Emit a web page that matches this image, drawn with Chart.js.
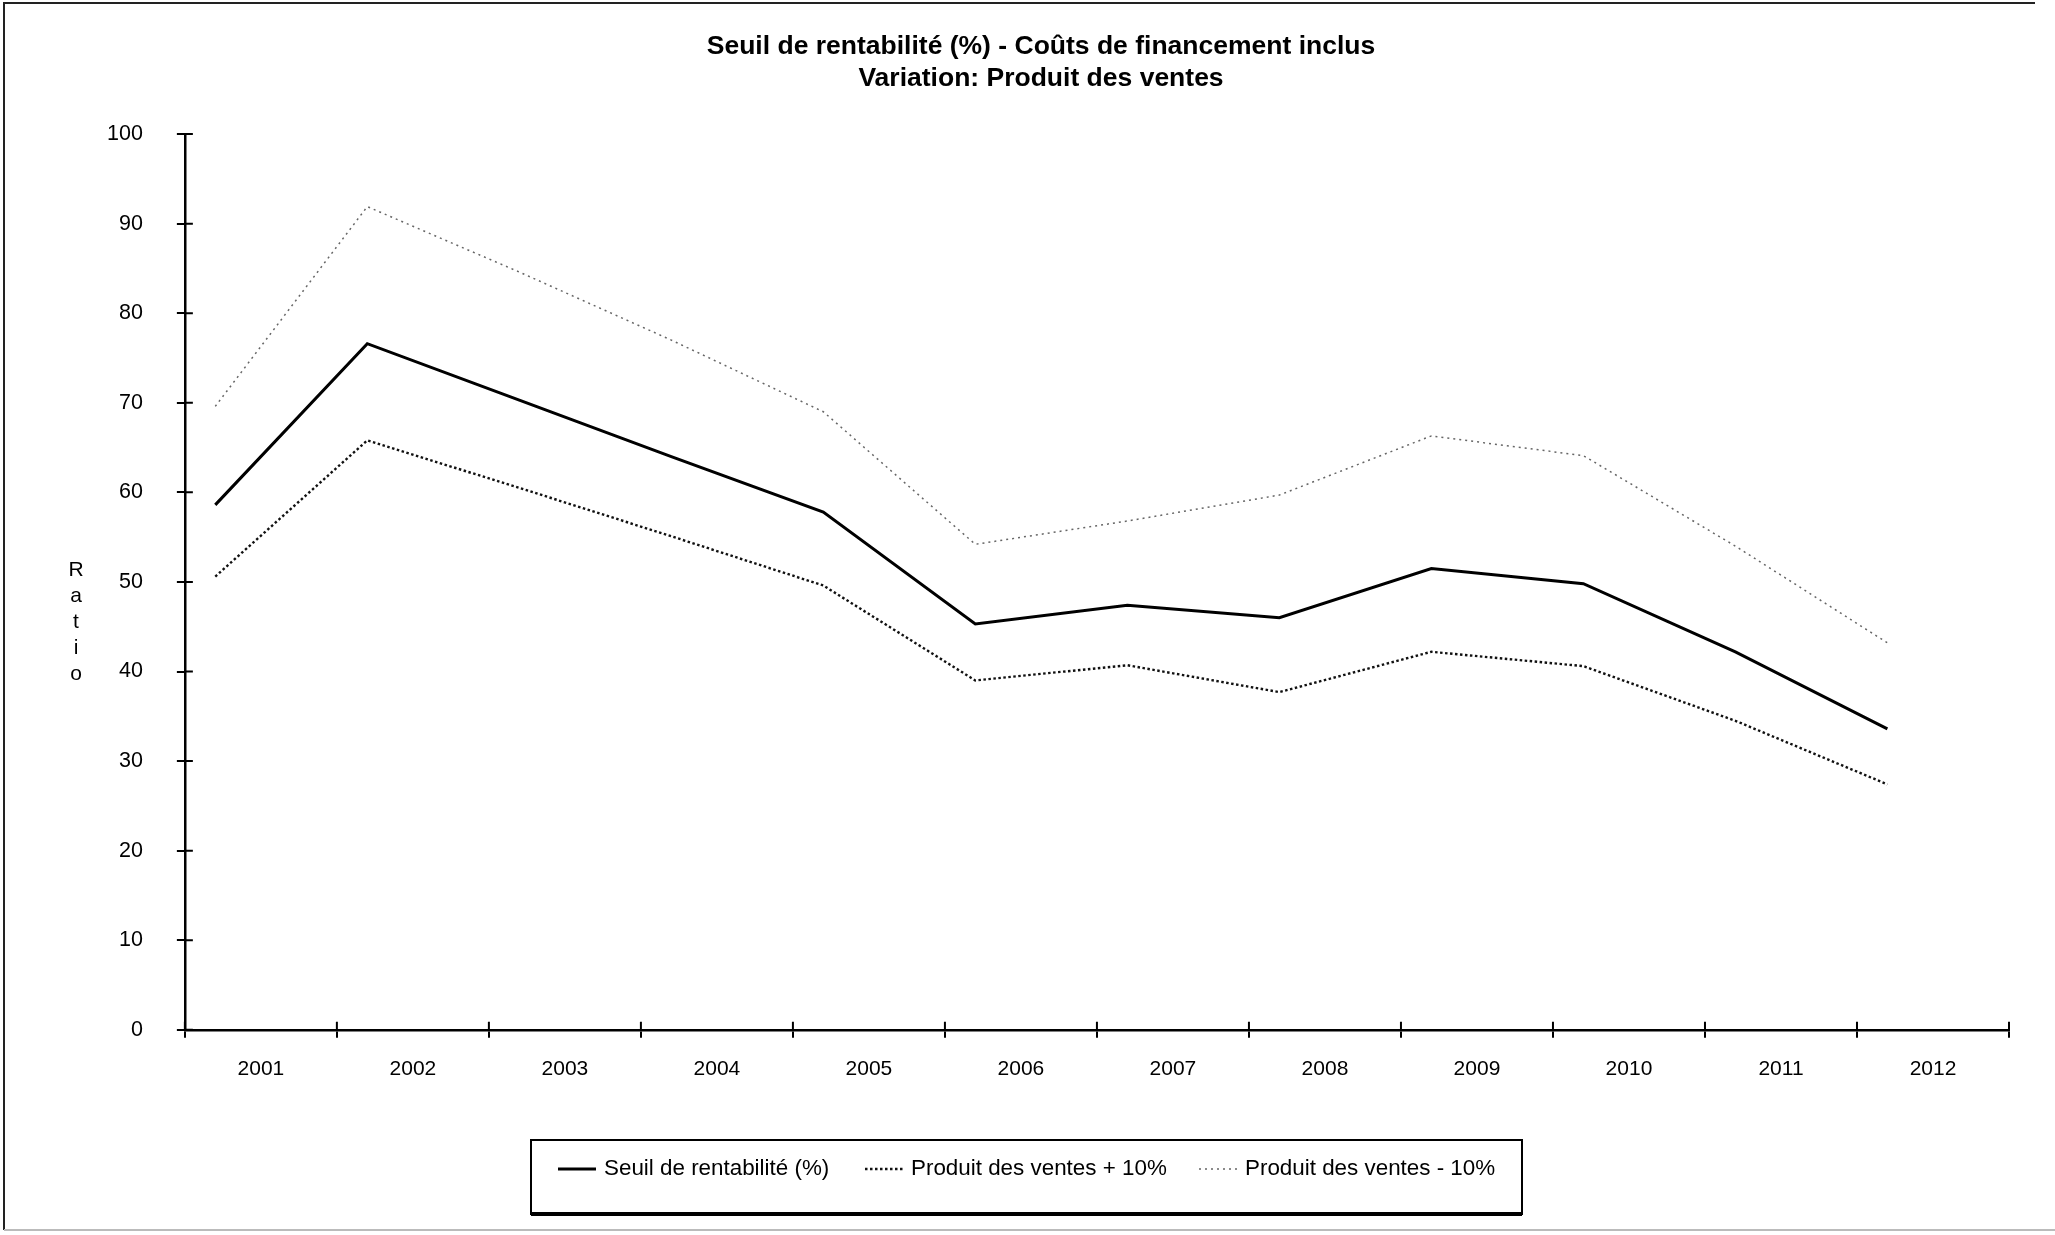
<!DOCTYPE html>
<html lang="fr">
<head>
<meta charset="utf-8">
<title>Seuil de rentabilité</title>
<script src="https://cdn.jsdelivr.net/npm/chart.js@4.4.1/dist/chart.umd.min.js"></script>
<style>
  html, body { margin: 0; padding: 0; background: #fff; }
  #wrap { width: 2055px; height: 1235px; }
</style>
</head>
<body>
<div id="wrap"><canvas id="seuil-chart" width="2055" height="1235"></canvas></div>
<script>
const years = ['2001', '2002', '2003', '2004', '2005', '2006', '2007', '2008', '2009', '2010', '2011', '2012'];
const seuil = [58.6, 76.6, 70.3, 64.0, 57.8, 45.3, 47.4, 46.0, 51.5, 49.8, 42.2, 33.6];
const ventesPlus10 = [50.6, 65.8, 60.5, 55.1, 49.6, 39.0, 40.7, 37.7, 42.2, 40.6, 34.5, 27.4];
const ventesMoins10 = [69.6, 91.9, 84.6, 77.0, 69.0, 54.2, 56.8, 59.7, 66.3, 64.1, 54.0, 43.2];
const yTicks = [0, 10, 20, 30, 40, 50, 60, 70, 80, 90, 100];

const FONT = '"Liberation Sans", Arial, Helvetica, sans-serif';
// points sit a little after the start of each year band
const shift = 0.2;
const toPoints = arr => arr.map((v, i) => ({ x: i + shift, y: v }));

// page frame + white background
const framePlugin = {
  id: 'frame',
  beforeDraw(chart) {
    const { ctx, width, height } = chart;
    ctx.save();
    ctx.fillStyle = '#fff';
    ctx.fillRect(0, 0, width, height);
    ctx.strokeStyle = '#222';
    ctx.lineWidth = 2;
    ctx.beginPath();
    ctx.moveTo(4, height - 5);
    ctx.lineTo(4, 3);
    ctx.lineTo(width - 20, 3);
    ctx.stroke();
    ctx.strokeStyle = '#bbb';
    ctx.beginPath();
    ctx.moveTo(4, height - 5);
    ctx.lineTo(width, height - 5);
    ctx.stroke();
    ctx.restore();
  }
};

// tick marks that cross the axis lines
const crossTicks = {
  id: 'crossTicks',
  afterDraw(chart) {
    const { ctx } = chart;
    const x = chart.scales.x, y = chart.scales.y;
    ctx.save();
    ctx.strokeStyle = '#000';
    ctx.lineWidth = 2;
    ctx.beginPath();
    x.ticks.forEach((t, i) => {
      const px = x.getPixelForTick(i);
      ctx.moveTo(px, x.top);
      ctx.lineTo(px, x.top - 8);
    });
    y.ticks.forEach((t, i) => {
      const py = y.getPixelForTick(i);
      ctx.moveTo(y.right, py);
      ctx.lineTo(y.right + 8, py);
    });
    ctx.stroke();
    ctx.restore();
  }
};

// "Ratio" written with stacked letters left of the value axis
const ratioLabel = {
  id: 'ratioLabel',
  afterDraw(chart) {
    const { ctx, chartArea } = chart;
    const letters = ['R', 'a', 't', 'i', 'o'];
    const cx = 76;
    const cy = chartArea.top + (chartArea.bottom - chartArea.top) * 0.545;
    ctx.save();
    ctx.fillStyle = '#000';
    ctx.font = '21px ' + FONT;
    ctx.textAlign = 'center';
    ctx.textBaseline = 'middle';
    letters.forEach((l, i) => ctx.fillText(l, cx, cy + (i - 2) * 26));
    ctx.restore();
  }
};

// boxed legend under the category labels
const boxLegend = {
  id: 'boxLegend',
  afterDraw(chart) {
    const { ctx } = chart;
    const box = { left: 531, top: chart.height - 95, right: 1522, bottom: chart.height - 21 };
    ctx.save();
    ctx.strokeStyle = '#000';
    ctx.lineWidth = 2;
    ctx.strokeRect(box.left, box.top, box.right - box.left, box.bottom - box.top);
    ctx.lineWidth = 4;
    ctx.beginPath();
    ctx.moveTo(box.left, box.bottom);
    ctx.lineTo(box.right, box.bottom);
    ctx.stroke();

    const ty = box.top + 29;
    const starts = [558, 865, 1199];
    ctx.font = '22.4px ' + FONT;
    ctx.textBaseline = 'middle';
    ctx.fillStyle = '#000';
    chart.data.datasets.forEach((ds, i) => {
      const sx = starts[i];
      ctx.strokeStyle = ds.borderColor;
      ctx.lineWidth = ds.borderWidth;
      ctx.setLineDash(ds.borderDash || []);
      ctx.beginPath();
      ctx.moveTo(sx, ty);
      ctx.lineTo(sx + 38, ty);
      ctx.stroke();
      ctx.setLineDash([]);
      ctx.fillText(ds.label, sx + 46, ty);
    });
    ctx.restore();
  }
};

new Chart(document.getElementById('seuil-chart'), {
  type: 'line',
  data: {
    datasets: [
      {
        label: 'Seuil de rentabilité (%)',
        data: toPoints(seuil),
        borderColor: '#000',
        borderWidth: 3,
        pointRadius: 0,
        tension: 0
      },
      {
        label: 'Produit des ventes + 10%',
        data: toPoints(ventesPlus10),
        borderColor: '#111',
        borderWidth: 2.4,
        borderDash: [2.5, 2.5],
        pointRadius: 0,
        tension: 0
      },
      {
        label: 'Produit des ventes - 10%',
        data: toPoints(ventesMoins10),
        borderColor: '#666',
        borderWidth: 1.5,
        borderDash: [2, 4],
        pointRadius: 0,
        tension: 0
      }
    ]
  },
  options: {
    responsive: false,
    animation: false,
    devicePixelRatio: 1,
    layout: { padding: { left: 73, right: 46, top: 0, bottom: 134 } },
    plugins: {
      legend: { display: false },
      tooltip: { enabled: false },
      title: {
        display: true,
        text: ['Seuil de rentabilité (%) - Coûts de financement inclus', 'Variation: Produit des ventes'],
        color: '#000',
        font: { family: FONT, size: 26.5, weight: 'bold', lineHeight: 1.19 },
        padding: { top: 31, bottom: 40 }
      }
    },
    scales: {
      x: {
        type: 'linear',
        position: 'bottom',
        weight: 0,
        min: 0,
        max: years.length,
        ticks: { display: false, stepSize: 1 },
        grid: { drawOnChartArea: false, tickLength: 8, color: '#000', lineWidth: 2 },
        border: { display: true, color: '#000', width: 2.5 }
      },
      xl: {
        type: 'category',
        position: 'bottom',
        weight: 1,
        labels: years,
        offset: true,
        grid: { display: false, drawTicks: false },
        border: { display: false },
        ticks: { color: '#000', padding: 19, font: { family: FONT, size: 21 } }
      },
      y: {
        min: 0,
        max: 100,
        afterBuildTicks: scale => { scale.ticks = yTicks.map(v => ({ value: v })); },
        ticks: { color: '#000', padding: 34, font: { family: FONT, size: 21.5 } },
        grid: { drawOnChartArea: false, tickLength: 8, color: '#000', lineWidth: 2 },
        border: { display: true, color: '#000', width: 2.5 }
      }
    }
  },
  plugins: [framePlugin, crossTicks, ratioLabel, boxLegend]
});
</script>
</body>
</html>
